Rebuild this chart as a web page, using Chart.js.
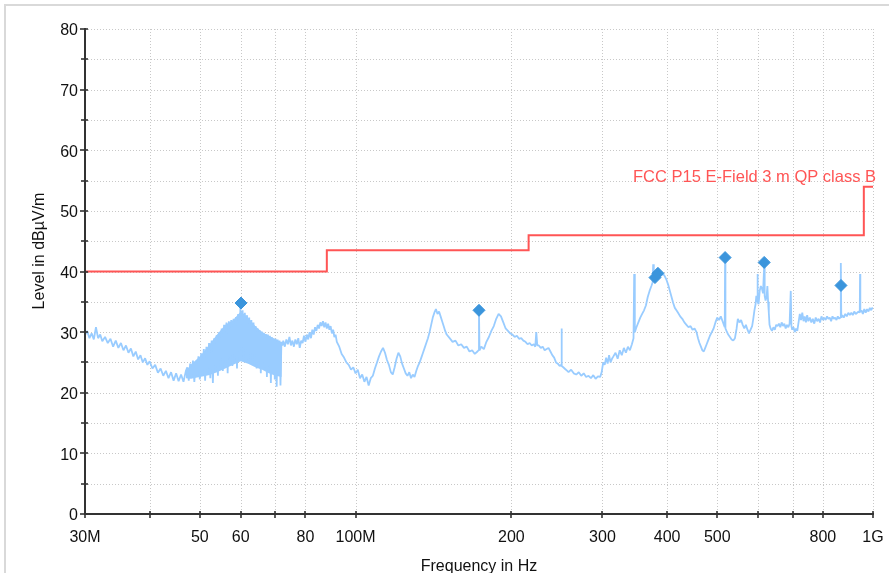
<!DOCTYPE html>
<html>
<head>
<meta charset="utf-8">
<script src="https://cdn.jsdelivr.net/npm/chart.js@4.4.1/dist/chart.umd.min.js"></script>
<style>
  html, body { margin: 0; padding: 0; background: #ffffff; }
  #wrap { position: relative; width: 889px; height: 573px; overflow: hidden; }
  canvas { display: block; }
</style>
</head>
<body>
<div id="wrap"><canvas id="c" width="889" height="573"></canvas></div>
<script>
// ---- data (frequency in MHz, level in dBµV/m) ----
const traceFreq = [
  30.0,30.3,30.6,30.9,31.2,31.5,31.8,32.1,32.4,32.8,
  33.2,33.6,34.0,34.4,34.8,35.2,35.6,36.0,36.4,36.8,
  37.2,37.6,38.0,38.4,38.8,39.2,39.6,40.0,40.5,41.0,
  41.5,42.0,42.5,43.0,43.5,44.0,44.5,45.0,45.5,46.0,
  46.5,47.0,47.3,47.6,47.9,48.2,48.5,48.8,49.1,49.4,
  49.7,50.0,50.3,50.6,50.9,51.2,51.5,51.8,52.1,52.4,
  52.7,53.0,53.3,53.6,53.9,54.2,54.5,54.8,55.1,55.4,
  55.7,56.0,56.3,56.6,56.9,57.2,57.5,57.8,58.1,58.4,
  58.7,59.0,59.3,59.6,59.9,60.2,60.5,60.8,61.1,61.4,
  61.7,62.0,62.3,62.6,62.9,63.2,63.5,63.8,64.1,64.4,
  64.7,65.0,65.3,65.6,65.9,66.2,66.5,66.8,67.1,67.4,
  67.7,68.0,68.3,68.6,68.9,69.2,69.5,69.8,70.1,70.4,
  70.7,71.0,71.3,71.6,71.9,72.2,72.5,73.0,73.5,74.0,
  74.5,75.0,75.5,76.0,76.5,77.0,77.5,78.0,78.5,79.0,
  79.5,80.0,80.5,81.0,81.5,82.0,82.5,83.0,83.5,84.0,
  84.5,85.0,85.5,86.0,86.5,87.0,87.5,88.0,88.5,89.0,
  89.5,90.0,90.5,91.0,91.5,92.0,93.0,94.0,95.0,96.0,
  97,98,99,100,101,102,103,104,105,106,
  107,108,109,110,111,112,113,114,115,116,
  117,118,119,120,121,122,123,124,125,126,
  127,128,129,130,131,132,133,134,135,136,
  137,138,139,140,141,142,143,144,145,146,
  147,148,149,150,152,154,156,158,160,162,
  164,166,168,170,172,172.8,173.2,173.6,175,177,
  179,181,183,185,187,189,191,193,195,197,
  199,201,203,205,207,209,211,213,215,217,
  219,221,222.5,223.5,224.5,226,228,230,232,234,
  236,238,240,242,244,246,248,249.5,250,250.5,
  252,255,258,261,264,267,270,273,276,279,
  282,285,288,291,294,297,299,301,303,305,
  307,309,311,313,315,318,321,324,327,330,
  333,336,339,342,344.5,345.5,346.5,349,352,355,
  358,361,364,367,370,373,375,376,377,379,
  381,384,387,390,393,396,399,402,405,408,
  411,414,417,420,424,428,432,436,440,444,
  448,452,456,459,462,465,468,471,474,477,
  480,484,488,492,496,500,504,508,512,515,
  517,517.8,518.6,521,525,529,533,537,541,545,
  548,552,556,560,564,568,572,576,580,584,
  587,590,593,595,597,598,599,601,604,607,
  610,613,616.2,617.5,620,623,625,627,629,631,
  634,638,642,646,650,654,658,662,666,670,
  674,678,682,686,690,693.5,695.5,698,702,706,
  710,714,718,722,726,730,734,738,742,746,
  750,755,760,765,770,775,780,785,790,795,
  800,805,810,815,820,825,830,835,840,845,
  850,855,860,864,866,867.2,868.4,872,878,884,
  890,896,902,908,914,920,926,932,938,942.8,
  944,945.2,950,956,962,968,974,980,986,992,
  996,1000
];
const traceLevel = [
  29.5,30.2,29.0,29.8,28.8,30.8,29.0,29.6,28.5,29.2,
  28.2,28.9,27.6,28.6,27.4,28.2,27.0,27.8,26.6,27.3,
  26.0,26.8,25.5,26.2,25.0,25.7,24.6,25.2,24.0,24.6,
  23.3,24.0,22.8,23.6,22.4,23.4,22.0,23.2,21.9,23.0,
  21.8,23.6,24.2,22.0,24.8,22.4,25.3,21.8,25.0,22.6,
  26.0,22.2,26.5,23.0,27.2,22.0,27.6,23.4,28.2,22.4,
  28.6,21.6,29.0,23.8,29.5,22.8,30.0,24.5,30.6,23.6,
  31.2,25.0,31.6,23.2,31.8,25.6,32.0,24.4,32.2,26.0,
  32.5,24.0,33.0,26.4,34.0,27.0,33.6,25.6,33.2,27.2,
  32.8,25.0,32.4,26.6,32.0,24.6,31.6,26.4,31.0,24.0,
  30.6,25.2,30.3,23.2,30.1,25.0,29.9,24.2,29.7,22.6,
  29.6,24.6,29.4,21.6,29.2,23.4,29.0,22.2,28.9,21.0,
  28.8,23.0,28.6,21.2,28.4,27.8,28.6,27.6,28.8,28.0,
  29.2,27.8,28.6,27.6,28.8,28.0,29.0,27.4,28.6,28.2,
  29.4,28.4,29.6,28.8,30.0,29.0,30.4,29.6,30.8,30.2,
  31.2,30.6,31.6,31.0,31.8,30.8,31.6,30.6,31.4,30.4,
  31.0,29.8,30.4,29.2,29.6,28.4,27.6,26.4,25.8,25.0,
  24.6,23.8,24.2,23.2,23.8,22.4,23.0,21.8,22.6,21.2,
  22.4,22.8,24.0,25.0,26.0,26.8,27.4,26.6,25.4,24.6,
  23.4,23.0,24.2,25.6,26.6,26.0,24.8,24.0,23.2,22.8,
  23.4,22.4,23.0,22.6,23.6,24.4,25.0,25.8,26.6,27.4,
  28.2,29.0,30.0,31.2,32.4,33.2,33.8,33.0,33.4,32.6,
  31.8,31.0,30.2,29.6,29.0,28.4,28.6,27.8,28.0,27.4,
  27.6,26.8,27.0,26.4,26.8,27.0,33.4,27.0,27.6,27.2,
  28.4,29.2,30.2,31.0,32.2,33.0,32.6,31.6,30.6,30.2,
  29.8,29.6,29.2,29.4,28.9,29.0,28.6,28.4,28.0,28.2,
  27.8,28.0,27.6,30.0,27.8,27.8,27.4,27.6,27.0,27.2,
  27.4,26.8,26.2,25.8,25.0,24.8,24.4,24.6,30.6,24.4,
  24.2,23.8,23.4,23.8,23.2,23.0,23.4,22.8,23.2,22.6,
  22.8,22.4,22.9,22.3,22.7,22.6,23.4,25.0,24.6,25.8,
  24.8,26.2,25.0,25.6,26.0,26.6,25.6,27.0,26.2,27.4,
  26.6,27.6,27.0,28.0,29.0,39.6,30.0,30.8,31.6,32.4,
  33.0,33.6,34.4,35.8,36.8,37.6,38.2,41.2,38.4,39.0,
  39.4,39.6,39.8,39.4,39.6,39.2,38.6,37.8,36.8,35.8,
  34.8,34.0,33.6,33.2,32.6,32.2,31.6,31.2,30.8,31.0,
  30.4,30.6,30.0,29.0,28.2,27.6,27.0,26.8,27.4,28.0,
  28.6,29.4,30.0,30.6,31.6,32.4,32.0,32.6,31.8,31.2,
  30.8,42.0,30.6,30.2,29.6,29.2,28.8,28.6,29.0,30.6,
  32.2,31.6,32.0,31.2,30.6,31.2,30.4,29.8,30.4,31.0,
  32.2,33.6,34.6,36.0,35.2,39.6,35.0,34.6,36.8,37.6,
  37.2,36.4,41.0,36.0,35.2,36.0,37.6,35.0,33.2,31.2,
  30.6,30.2,30.8,30.4,31.2,31.0,31.4,30.8,31.6,31.0,
  31.4,30.6,31.2,30.8,31.4,36.8,31.0,30.4,30.8,30.0,
  30.6,30.2,31.6,33.0,32.0,33.2,31.8,32.6,31.6,32.8,
  31.8,32.4,31.6,32.2,31.4,32.4,31.8,32.2,31.6,32.6,
  32.0,32.4,32.0,32.6,32.2,32.4,31.8,32.6,32.2,32.4,
  32.0,32.6,32.2,32.4,32.6,41.4,32.4,32.8,32.4,33.0,
  32.6,33.2,32.8,33.2,32.8,33.4,33.0,33.2,33.4,33.2,
  39.6,33.4,33.6,33.0,33.8,33.2,33.8,33.4,34.0,33.6,
  34.0,33.8
];
// solid core of the dense noise band (47–72 MHz)
const bandFreq  = [47, 48, 50, 52, 54, 56, 58, 60, 62, 64, 66, 68, 70, 72];
const bandUpper = [23.6, 24.6, 26.0, 27.8, 29.6, 31.2, 32.0, 33.4, 32.4, 31.0, 30.0, 29.4, 28.8, 28.3];
const bandLower = [22.4, 22.3, 22.6, 22.9, 23.4, 24.0, 24.6, 25.2, 24.8, 24.2, 23.8, 23.2, 22.8, 22.6];
const limitFreq  = [30, 88, 88, 216, 216, 960, 960, 1000];
const limitLevel = [40, 40, 43.5, 43.5, 46, 46, 54, 54];
const limitLabel = 'FCC P15 E-Field 3 m QP class B';
const markerFreq  = [60.06, 173.2, 379, 384, 517.8, 616.2, 867.2];
const markerLevel = [34.8, 33.6, 39.0, 39.7, 42.3, 41.5, 37.7];
const xTickValues = [30, 40, 50, 60, 70, 80, 100, 200, 300, 400, 500, 600, 700, 800, 1000];
const xTickLabels = ['30M', '', '50', '60', '', '80', '100M', '200', '300', '400', '500', '', '', '800', '1G'];
const yTickValues = [0, 5, 10, 15, 20, 25, 30, 35, 40, 45, 50, 55, 60, 65, 70, 75, 80];
const yTickLabels = ['0', '', '10', '', '20', '', '30', '', '40', '', '50', '', '60', '', '70', '', '80'];
const xTitle = 'Frequency in Hz';
const yTitle = 'Level in dBµV/m';

const FONT = '"Liberation Sans", Arial, Helvetica, sans-serif';
const LIMIT_COLOR = '#ff5555';
const TRACE_COLOR = '#99ccff';

const toPoints = (fs, vs) => fs.map((f, i) => ({ x: f, y: vs[i] }));

const decor = {
  id: 'decor',
  beforeDraw(chart) {
    const ctx = chart.ctx;
    ctx.save();
    ctx.strokeStyle = '#d9d9d9';
    ctx.lineWidth = 2;
    ctx.beginPath();
    ctx.moveTo(5, 573);
    ctx.lineTo(5, 5);
    ctx.lineTo(889, 5);
    ctx.stroke();
    ctx.restore();
  },
  beforeDatasetsDraw(chart) {
    const { ctx, chartArea: a, scales: { x, y } } = chart;
    ctx.save();
    ctx.strokeStyle = '#c8c8c8';
    ctx.lineWidth = 1;
    ctx.setLineDash([1, 2]);
    xTickValues.forEach(v => {
      if (v === xTickValues[0]) return;
      const px = Math.round(x.getPixelForValue(v)) + 0.5;
      ctx.beginPath(); ctx.moveTo(px, a.top); ctx.lineTo(px, a.bottom); ctx.stroke();
    });
    yTickValues.forEach(v => {
      if (v === yTickValues[0]) return;
      const py = Math.round(y.getPixelForValue(v)) + 0.5;
      ctx.beginPath(); ctx.moveTo(a.left, py); ctx.lineTo(a.right, py); ctx.stroke();
    });
    ctx.restore();
  },
  afterDatasetsDraw(chart) {
    const { ctx, chartArea: a, scales: { x, y } } = chart;
    ctx.save();
    ctx.strokeStyle = '#333333';
    ctx.lineWidth = 2;
    ctx.setLineDash([]);
    const left = Math.round(a.left);
    const bottom = Math.round(a.bottom);
    ctx.beginPath();
    ctx.moveTo(left, Math.round(a.top) - 1);
    ctx.lineTo(left, bottom + 1);
    ctx.moveTo(left - 1, bottom);
    ctx.lineTo(Math.round(a.right) + 1, bottom);
    ctx.stroke();
    ctx.lineWidth = 1.6;
    yTickValues.forEach((v, i) => {
      const py = Math.round(y.getPixelForValue(v));
      const major = yTickLabels[i] !== '';
      ctx.beginPath(); ctx.moveTo(left - (major ? 5 : 4), py); ctx.lineTo(left + 3, py); ctx.stroke();
    });
    xTickValues.forEach(v => {
      const px = Math.round(x.getPixelForValue(v));
      ctx.beginPath(); ctx.moveTo(px, bottom - 3); ctx.lineTo(px, bottom + 4); ctx.stroke();
    });
    // limit label
    ctx.fillStyle = LIMIT_COLOR;
    ctx.font = '16.5px ' + FONT;
    ctx.textAlign = 'right';
    ctx.textBaseline = 'alphabetic';
    ctx.fillText(limitLabel, a.right + 3, y.getPixelForValue(limitLevel[limitLevel.length - 1]) - 5);
    // axis titles
    ctx.fillStyle = '#111111';
    ctx.font = '16px ' + FONT;
    ctx.textAlign = 'center';
    ctx.fillText(xTitle, (a.left + a.right) / 2, 571);
    ctx.translate(40, 251);
    ctx.rotate(-Math.PI / 2);
    ctx.textBaseline = 'middle';
    ctx.fillText(yTitle, 0, 0);
    ctx.restore();
  }
};

new Chart(document.getElementById('c'), {
  type: 'line',
  data: {
    datasets: [
      {
        label: 'Final',
        data: toPoints(markerFreq, markerLevel),
        showLine: false,
        pointStyle: 'rectRot',
        pointRadius: 6,
        pointBackgroundColor: '#3b95dc',
        pointBorderColor: '#3b95dc',
        pointBorderWidth: 1,
        order: 0
      },
      {
        label: limitLabel,
        data: toPoints(limitFreq, limitLevel),
        borderColor: LIMIT_COLOR,
        borderWidth: 2,
        pointRadius: 0,
        tension: 0,
        order: 1
      },
      {
        label: 'Preview',
        data: toPoints(traceFreq, traceLevel),
        borderColor: TRACE_COLOR,
        borderWidth: 1.8,
        borderJoinStyle: 'bevel',
        pointRadius: 0,
        tension: 0,
        order: 2
      },
      {
        label: 'band upper',
        data: toPoints(bandFreq, bandUpper),
        borderColor: TRACE_COLOR,
        borderWidth: 0,
        backgroundColor: TRACE_COLOR,
        fill: '+1',
        pointRadius: 0,
        tension: 0,
        order: 3
      },
      {
        label: 'band lower',
        data: toPoints(bandFreq, bandLower),
        borderColor: TRACE_COLOR,
        borderWidth: 0,
        fill: false,
        pointRadius: 0,
        tension: 0,
        order: 4
      }
    ]
  },
  options: {
    responsive: false,
    animation: false,
    devicePixelRatio: 1,
    layout: { padding: { top: 29, right: 16, left: 0, bottom: 0 } },
    plugins: { legend: { display: false }, tooltip: { enabled: false } },
    scales: {
      x: {
        type: 'logarithmic',
        min: 30, max: 1000,
        grid: { display: false, drawTicks: true, tickLength: 12 },
        border: { display: false },
        afterBuildTicks: s => { s.ticks = xTickValues.map(v => ({ value: v })); },
        afterFit: s => { s.height = 59; },
        ticks: {
          autoSkip: false, maxRotation: 0, minRotation: 0,
          padding: 2, color: '#111111',
          font: { family: FONT, size: 16 },
          callback: (v, i) => xTickLabels[i]
        }
      },
      y: {
        type: 'linear',
        min: 0, max: 80,
        grid: { display: false, drawTicks: false },
        border: { display: false },
        afterBuildTicks: s => { s.ticks = yTickValues.map(v => ({ value: v })); },
        afterFit: s => { s.width = 85; },
        ticks: {
          autoSkip: false,
          padding: 7, color: '#111111',
          labelOffset: 2,
          font: { family: FONT, size: 16 },
          callback: (v, i) => yTickLabels[i]
        }
      }
    }
  },
  plugins: [decor]
});
</script>
</body>
</html>
